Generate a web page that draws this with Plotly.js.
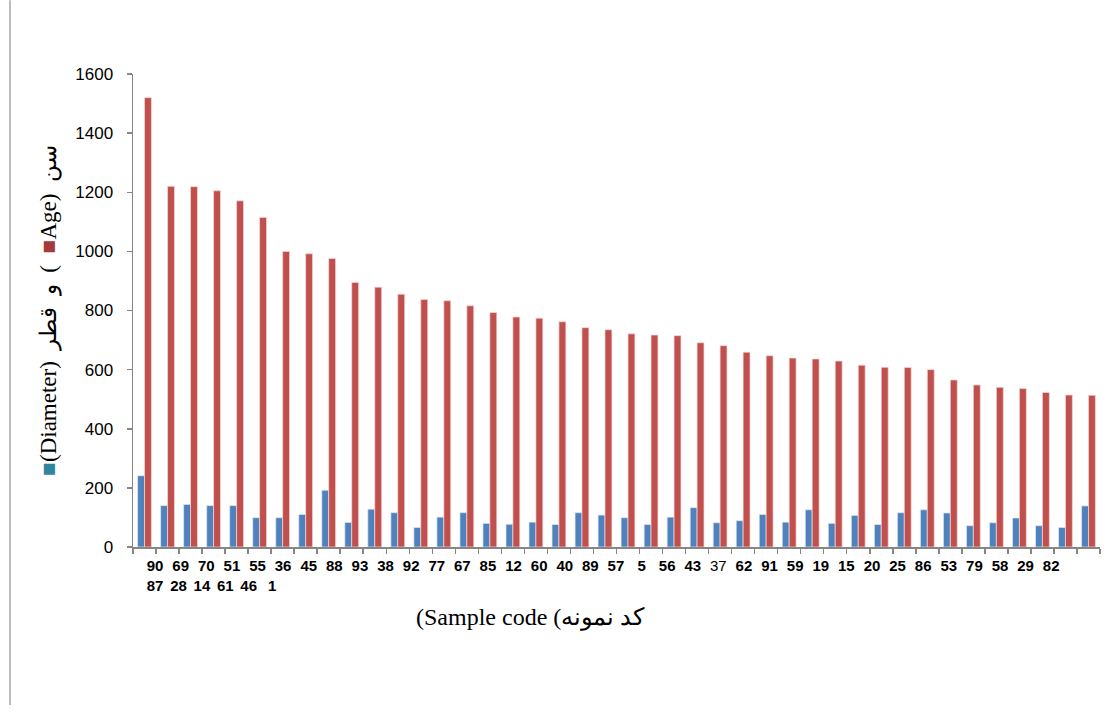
<!DOCTYPE html>
<html>
<head>
<meta charset="utf-8">
<script src="https://cdn.plot.ly/plotly-3.0.1.min.js"></script>
<style>
  html, body { margin: 0; padding: 0; background: #ffffff; }
  #chart { width: 1113px; height: 712px; }
</style>
</head>
<body>
<div id="chart"></div>
<script>
// ---- Data ----
const diameterValues = [241, 140, 144, 140, 140, 99, 99, 110, 192, 83, 128, 116, 66, 101,
  116, 80, 77, 84, 76, 116, 108, 99, 76, 101, 133, 82, 89, 110,
  84, 126, 80, 107, 76, 116, 126, 115, 72, 82, 98, 72, 66, 139];
const ageValues = [1520, 1220, 1219, 1205, 1171, 1115, 1000, 992, 976, 895, 879, 855, 837, 833,
  816, 793, 778, 774, 762, 742, 735, 721, 717, 715, 691, 681, 659, 647,
  639, 636, 629, 615, 608, 607, 600, 565, 548, 540, 536, 523, 514, 513];
// Sample-code tick labels as they appear (first row, then the wrapped second row)
const sampleCodesRow1 = ["90","69","70","51","55","36","45","88","93","38","92","77","67","85",
  "12","60","40","89","57","5","56","43","37","62","91","59","19","15","20","25","86","53",
  "79","58","29","82"];
const sampleCodesRow2 = ["87","28","14","61","46","1"];
const normalWeightCodes = ["37"];
const yTickValues = [0, 200, 400, 600, 800, 1000, 1200, 1400, 1600];

// ---- Build chart ----
const n = ageValues.length;
const barIndex = ageValues.map((_, i) => i);
const boundaries = [];
for (let i = 0; i <= n; i++) boundaries.push(i - 0.5);

function spread(count, start, end) {
  const out = [];
  for (let k = 0; k < count; k++) out.push(count === 1 ? start : start + (end - start) * k / (count - 1));
  return out;
}
function fmt(code) {
  return normalWeightCodes.includes(code) ? "<span style='font-weight:normal'>" + code + "</span>" : code;
}

const xRange = [-0.5, n - 0.5];
const axisGray = "#868686";
const LRM = "\u200E", NB = "\u00A0";

const traces = [
  {
    type: "bar", name: "Diameter", x: barIndex, y: diameterValues,
    marker: { color: "#4F81BD", line: { color: "rgba(220,232,245,0.9)", width: 0.8 } },
    hoverinfo: "y"
  },
  {
    type: "bar", name: "Age", x: barIndex, y: ageValues,
    marker: { color: "#C0504D", line: { color: "rgba(245,215,214,0.9)", width: 0.8 } },
    hoverinfo: "y"
  },
  { type: "scatter", x: [], y: [], xaxis: "x2", yaxis: "y", showlegend: false, hoverinfo: "skip" },
  { type: "scatter", x: [], y: [], xaxis: "x3", yaxis: "y", showlegend: false, hoverinfo: "skip" }
];

const labelFont = { family: "Liberation Sans, Arial, sans-serif", size: 15, color: "#000000", weight: "bold" };

const yTitleText =
  "<span style='color:#31859C'>■</span>(Diameter)" + LRM + NB + " و " + NB + "قطر" + LRM + NB +
  " (" + NB + " <span style='color:#A33B3B'>■</span>Age)" + LRM + NB + " سن";

const layout = {
  width: 1113, height: 712,
  margin: { l: 133, r: 13, t: 74, b: 165, pad: 0 },
  paper_bgcolor: "#ffffff", plot_bgcolor: "#ffffff",
  showlegend: false,
  barmode: "group", bargap: 0.4, bargroupgap: 0,
  xaxis: {
    type: "linear", range: xRange, fixedrange: true,
    tickmode: "array", tickvals: boundaries, ticktext: boundaries.map(() => ""),
    ticks: "outside", ticklen: 5, tickwidth: 1.5, tickcolor: axisGray,
    showline: true, linecolor: axisGray, linewidth: 2,
    showgrid: false, zeroline: false
  },
  xaxis2: {
    overlaying: "x", anchor: "y", side: "bottom", type: "linear", range: xRange,
    tickmode: "array",
    tickvals: spread(sampleCodesRow1.length, 0.46, 39.38),
    ticktext: sampleCodesRow1.map(fmt),
    ticks: "", showline: false, showgrid: false, zeroline: false,
    tickfont: labelFont, ticklabelstandoff: 8
  },
  xaxis3: {
    overlaying: "x", anchor: "y", side: "bottom", type: "linear", range: xRange,
    tickmode: "array",
    tickvals: spread(sampleCodesRow2.length, 0.46, 5.54),
    ticktext: sampleCodesRow2.map(fmt),
    ticks: "", showline: false, showgrid: false, zeroline: false,
    tickfont: labelFont, ticklabelstandoff: 28
  },
  yaxis: {
    range: [0, 1600], fixedrange: true,
    tickmode: "array", tickvals: yTickValues, ticktext: yTickValues.map(String),
    ticks: "outside", ticklen: 5, tickwidth: 1.5, tickcolor: axisGray,
    showline: true, linecolor: axisGray, linewidth: 1.5,
    showgrid: false, zeroline: false,
    tickfont: { family: "Liberation Sans, Arial, sans-serif", size: 17, color: "#000000" },
    ticklabelstandoff: 10,
    automargin: false,
    title: {
      text: yTitleText,
      font: { family: "Liberation Serif, Times New Roman, serif", size: 23, color: "#000000" },
      standoff: 12
    }
  },
  annotations: [
    {
      text: "(Sample code (کد نمونه",
      xref: "paper", yref: "paper", x: 0.4106, y: -0.148,
      xanchor: "center", yanchor: "middle", showarrow: false,
      font: { family: "Liberation Serif, Times New Roman, serif", size: 24, color: "#000000" }
    }
  ],
  shapes: [
    {
      type: "line", xref: "paper", yref: "paper",
      x0: -0.1272, x1: -0.1272, y0: -0.334, y1: 1.156,
      line: { color: "#A6A6A6", width: 1.5 }
    }
  ]
};

Plotly.newPlot("chart", traces, layout, { staticPlot: true, displayModeBar: false });
</script>
</body>
</html>
